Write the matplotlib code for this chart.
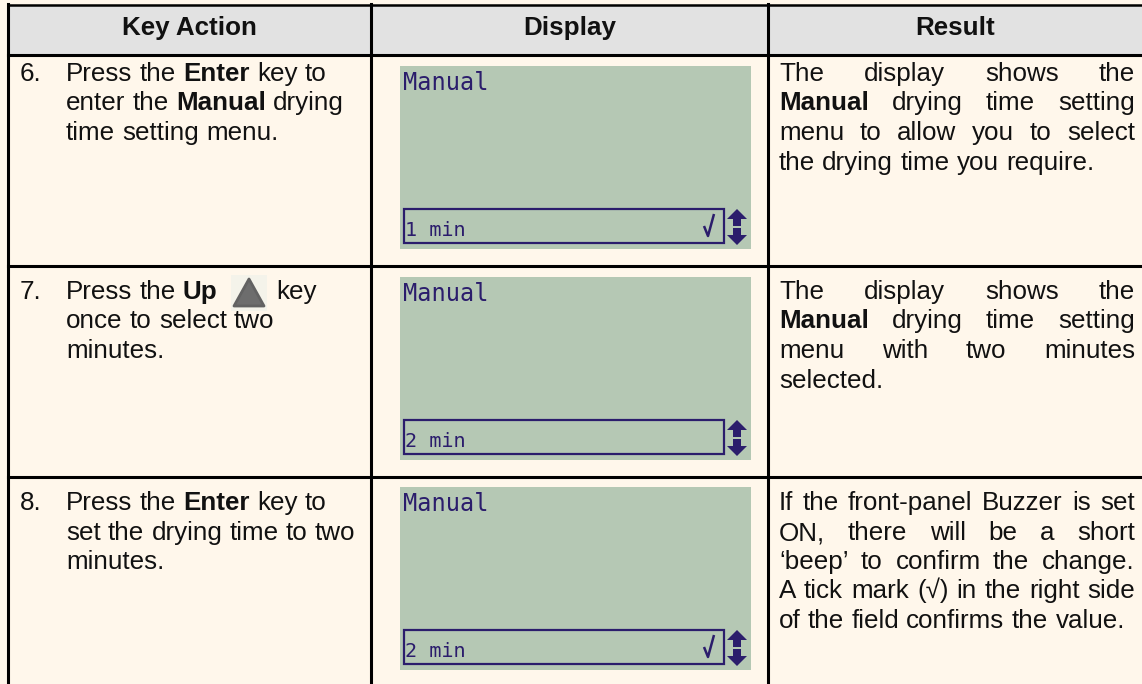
import matplotlib
matplotlib.use('Agg')
import matplotlib.pyplot as plt
from matplotlib.patches import Rectangle, Polygon

# table content
headers = ["Key Action", "Display", "Result"]
step_numbers = ["6.", "7.", "8."]
key_lines = [
    ["Press the *Enter* key to", "enter the *Manual* drying", "time setting menu."],
    ["Press the *Up* [UP] key", "once to select two", "minutes."],
    ["Press the *Enter* key to", "set the drying time to two", "minutes."],
]
lcd_title = "Manual"
lcd_values = ["1 min", "2 min", "2 min"]
lcd_ticks = [True, False, True]
result_lines = [
    ["The display shows the", "*Manual* drying time setting",
     "menu to allow you to select", "the drying time you require."],
    ["The display shows the", "*Manual* drying time setting",
     "menu with two minutes", "selected."],
    ["If the front-panel Buzzer is set", "ON, there will be a short",
     "\u2018beep\u2019 to confirm the change.", "A tick mark (\u221a) in the right side",
     "of the field confirms the value."],
]

W, H = 1142, 684
BG = '#FFF7EB'
HEAD = '#E2E2E2'
PANEL = '#B5C8B4'
NAVY = '#2B1D6C'
INK = '#111111'
FONT = ['Liberation Sans', 'DejaVu Sans']
FS = 18.7
LINE_H = 29.5

col_x = [8, 371, 768, W]
row_y = [55, 266, 477, H]
text_base = [81, 299, 510]
panel_top = [66, 277, 487]

fig = plt.figure(figsize=(W / 100, H / 100), dpi=100)
fig.patch.set_facecolor(BG)
ax = fig.add_axes([0, 0, 1, 1])
ax.set_xlim(0, W)
ax.set_ylim(H, 0)
ax.axis('off')
renderer = fig.canvas.get_renderer()


def text_width(s, bold=False):
    t = ax.text(0, 0, s, fontsize=FS, family=FONT,
                fontweight='bold' if bold else 'normal')
    w = t.get_window_extent(renderer).width
    t.remove()
    return w


SPACE = text_width('a a') - text_width('aa')
ICON_W = 44


def draw_up_icon(x, base):
    # light key cap with a grey triangle
    ax.add_patch(Rectangle((x + 6, base - 24), 36, 36, fc='#F4F3EA', ec='none'))
    ax.add_patch(Polygon([(x + 9, base + 7), (x + 39, base + 7), (x + 24, base - 20)],
                         closed=True, fc='#6D6D6D', ec='#626262', lw=2,
                         joinstyle='round'))


def draw_line(x, base, line, right=None):
    words = []
    for tok in line.split(' '):
        if tok == '[UP]':
            words.append(('icon', '', False, ICON_W))
        elif tok.startswith('*') and tok.endswith('*'):
            words.append(('text', tok[1:-1], True, text_width(tok[1:-1], True)))
        else:
            words.append(('text', tok, False, text_width(tok)))
    gap = SPACE
    if right is not None and len(words) > 1:
        gap = (right - x - sum(w[3] for w in words)) / (len(words) - 1)
    cx = x
    for kind, s, bold, w in words:
        if kind == 'icon':
            draw_up_icon(round(cx), base)
        else:
            ax.text(round(cx), base, s, fontsize=FS, family=FONT, color=INK, va='baseline',
                    fontweight='bold' if bold else 'normal')
        cx += w + gap


def draw_lcd(x0, y0, value, tick):
    ax.add_patch(Rectangle((x0, y0), 351, 183, fc=PANEL, ec='none'))
    ax.text(x0 + 3, y0 + 24, lcd_title, family='DejaVu Sans Mono', fontsize=17,
            color=NAVY, va='baseline')
    ax.add_patch(Rectangle((x0 + 4, y0 + 143), 320, 34, fill=False, ec=NAVY, lw=1.6))
    ax.text(x0 + 5, y0 + 170, value, family='DejaVu Sans Mono', fontsize=14.5,
            color=NAVY, va='baseline')
    if tick:
        ax.plot([x0 + 304, x0 + 308, x0 + 314], [y0 + 160, y0 + 170, y0 + 148],
                color=NAVY, lw=1.8, solid_capstyle='butt')
    up = [(327, 153), (337, 143), (347, 153), (341, 153), (341, 160), (333, 160), (333, 153)]
    down = [(333, 162), (341, 162), (341, 169), (347, 169), (337, 179), (327, 169), (333, 169)]
    for pts in (up, down):
        ax.add_patch(Polygon([(x0 + px, y0 + py) for px, py in pts], closed=True,
                             fc=NAVY, ec='none'))


# header
ax.add_patch(Rectangle((col_x[0], 5), W - col_x[0], row_y[0] - 5, fc=HEAD, ec='none'))
for i, h in enumerate(headers):
    ax.text((col_x[i] + col_x[i + 1]) / 2, 28, h, fontsize=FS, family=FONT,
            fontweight='bold', color=INK, ha='center', va='center')

# body rows
for r in range(3):
    base = text_base[r]
    ax.text(20, base, step_numbers[r], fontsize=FS, family=FONT, color=INK, va='baseline')
    for k, line in enumerate(key_lines[r]):
        draw_line(66, round(base + k * LINE_H), line)
    draw_lcd(400, panel_top[r], lcd_values[r], lcd_ticks[r])
    res = result_lines[r]
    for k, line in enumerate(res):
        right = 1135 if k < len(res) - 1 else None
        draw_line(779, round(base + k * LINE_H), line, right)

# grid lines
lw = 2.2
ax.plot([col_x[0], W], [5, 5], color='black', lw=1.8)
for y in row_y[:-1]:
    ax.plot([col_x[0], W], [y, y], color='black', lw=lw)
for x in col_x[:-1]:
    ax.plot([x, x], [4, H], color='black', lw=lw)

fig.savefig('out.png', dpi=100, facecolor=BG)
